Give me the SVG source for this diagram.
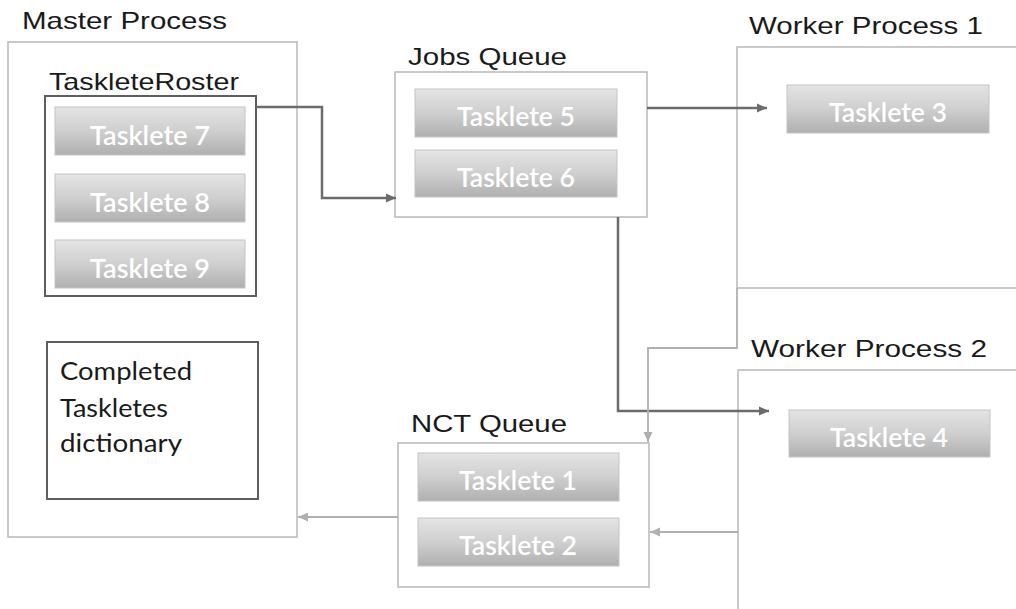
<svg xmlns="http://www.w3.org/2000/svg" width="1016" height="609" viewBox="0 0 1016 609">
  <defs>
    <linearGradient id="taskFill" x1="0" y1="0" x2="0" y2="1">
      <stop offset="0" stop-color="#e4e4e4"/>
      <stop offset="0.5" stop-color="#cfcfcf"/>
      <stop offset="1" stop-color="#afafaf"/>
    </linearGradient>
    <marker id="arrowDark" markerUnits="userSpaceOnUse" markerWidth="12" markerHeight="12" viewBox="0 0 12 12" refX="11" refY="6" orient="auto">
      <path d="M1,1.5 L11,6 L1,10.5 Z" fill="#6b6b6b"/>
    </marker>
    <marker id="arrowLight" markerUnits="userSpaceOnUse" markerWidth="12" markerHeight="12" viewBox="0 0 12 12" refX="11" refY="6" orient="auto">
      <path d="M1,1.5 L11,6 L1,10.5 Z" fill="#b0b0b0"/>
    </marker>
  </defs>
  <style>
    .outer { fill: #ffffff; stroke: #b8b8b8; stroke-width: 1.5; }
    .inner { fill: #ffffff; stroke: #5e5e5e; stroke-width: 2; }
    .task { fill: url(#taskFill); stroke: #c4c4c4; stroke-width: 1; }
    .task-label { font-family: Lato, "Open Sans", sans-serif; font-size: 26px; font-weight: 600; fill: #ffffff; text-anchor: middle; }
    .title { font-family: "Liberation Sans", Arial, sans-serif; font-size: 24px; fill: #1a1a1a; }
    .body { font-family: Lato, "Open Sans", sans-serif; font-size: 25px; fill: #1a1a1a; }
    .dark { fill: none; stroke: #6b6b6b; stroke-width: 2.5; marker-end: url(#arrowDark); }
    .light { fill: none; stroke: #b0b0b0; stroke-width: 1.8; marker-end: url(#arrowLight); }
  </style>
  <rect width="1016" height="609" fill="#ffffff"/>

  <!-- Master process with its roster and completed dictionary -->
  <g id="master">
    <text class="title" x="22" y="29" textLength="205" lengthAdjust="spacingAndGlyphs">Master Process</text>
    <rect class="outer" x="8" y="42" width="289" height="495"/>
    <g id="roster">
      <text class="title" x="49" y="90" textLength="190" lengthAdjust="spacingAndGlyphs">TaskleteRoster</text>
      <rect class="inner" x="45" y="96" width="211" height="200"/>
      <rect class="task" x="55" y="107" width="190" height="48"/>
      <text class="task-label" x="150" y="145" textLength="120" lengthAdjust="spacingAndGlyphs">Tasklete 7</text>
      <rect class="task" x="55" y="174" width="190" height="48"/>
      <text class="task-label" x="150" y="212" textLength="120" lengthAdjust="spacingAndGlyphs">Tasklete 8</text>
      <rect class="task" x="55" y="240" width="190" height="48"/>
      <text class="task-label" x="150" y="278" textLength="120" lengthAdjust="spacingAndGlyphs">Tasklete 9</text>
    </g>
    <g id="completed">
      <rect class="inner" x="47" y="342" width="211" height="157"/>
      <text class="body" x="60" y="380" textLength="132" lengthAdjust="spacingAndGlyphs">Completed</text>
      <text class="body" x="60" y="417" textLength="108" lengthAdjust="spacingAndGlyphs">Taskletes</text>
      <text class="body" x="60" y="452" textLength="122" lengthAdjust="spacingAndGlyphs">dictionary</text>
    </g>
  </g>

  <!-- Jobs queue -->
  <g id="jobs-queue">
    <text class="title" x="408" y="65" textLength="159" lengthAdjust="spacingAndGlyphs">Jobs Queue</text>
    <rect class="outer" x="395" y="72" width="252" height="145"/>
    <rect class="task" x="415" y="89" width="202" height="48"/>
    <text class="task-label" x="516" y="126" textLength="118" lengthAdjust="spacingAndGlyphs">Tasklete 5</text>
    <rect class="task" x="415" y="150" width="202" height="47"/>
    <text class="task-label" x="516" y="187" textLength="118" lengthAdjust="spacingAndGlyphs">Tasklete 6</text>
  </g>

  <!-- NCT queue -->
  <g id="nct-queue">
    <text class="title" x="411" y="432" textLength="156" lengthAdjust="spacingAndGlyphs">NCT Queue</text>
    <rect class="outer" x="398" y="443" width="251" height="144"/>
    <rect class="task" x="418" y="453" width="201" height="48"/>
    <text class="task-label" x="518" y="490" textLength="118" lengthAdjust="spacingAndGlyphs">Tasklete 1</text>
    <rect class="task" x="418" y="518" width="201" height="48"/>
    <text class="task-label" x="518" y="555" textLength="118" lengthAdjust="spacingAndGlyphs">Tasklete 2</text>
  </g>

  <!-- Worker processes (open on the right and bottom) -->
  <g id="worker-1">
    <text class="title" x="749" y="34" textLength="234" lengthAdjust="spacingAndGlyphs">Worker Process 1</text>
    <path class="outer" d="M1020,47 H737 V288 H1020"/>
    <rect class="task" x="787" y="85" width="202" height="48"/>
    <text class="task-label" x="888" y="122" textLength="118" lengthAdjust="spacingAndGlyphs">Tasklete 3</text>
  </g>
  <g id="worker-2">
    <text class="title" x="751" y="357" textLength="236" lengthAdjust="spacingAndGlyphs">Worker Process 2</text>
    <path class="outer" d="M1020,370 H738 V612"/>
    <rect class="task" x="789" y="410" width="201" height="47"/>
    <text class="task-label" x="889" y="447" textLength="118" lengthAdjust="spacingAndGlyphs">Tasklete 4</text>
  </g>

  <!-- Connectors -->
  <g id="connectors">
    <path class="dark" d="M256,107 H322 V198 H396"/>
    <path class="dark" d="M647,108 H767"/>
    <path class="dark" d="M618,217 V411 H769"/>
    <path class="light" d="M737,288 V348 H648 V442"/>
    <path class="light" d="M738,532 H650"/>
    <path class="light" d="M398,517 H298"/>
  </g>
</svg>
